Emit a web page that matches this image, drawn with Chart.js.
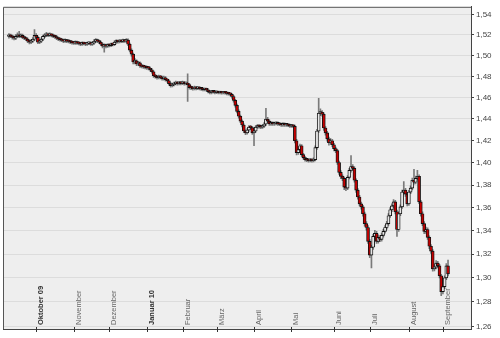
<!DOCTYPE html>
<html><head><meta charset="utf-8">
<script src="https://cdn.jsdelivr.net/npm/chart.js@4.4.1/dist/chart.umd.min.js"></script>
<style>html,body{margin:0;padding:0;background:#fff}canvas{display:block}</style>
</head><body>
<canvas id="c" width="500" height="338"></canvas>
<script>
// trading-day slots on the x axis; first candle sits in slot 3
const totalSlots = 275;
const firstSlot = 3;
const monthLabels = ['Oktober 09','November','Dezember','Januar 10','Februar','März','April','Mai','Juni','Juli','August','September'];
const monthSlots  = [19,41,62,84,105,125,147,169,194,215,238,258];
const monthBold   = [true,false,false,true,false,false,false,false,false,false,false,false];
const yTicks = [1.26,1.28,1.30,1.32,1.34,1.36,1.38,1.40,1.42,1.44,1.46,1.48,1.50,1.52,1.54];

const openP = [
1.5185,1.5196,1.5187,1.5177,1.5168,1.5187,1.5196,1.5187,1.5196,1.5177,1.5168,1.5158,1.5139,1.5129,1.5139,1.5158,1.5196,1.5177,1.5129,1.5139,
1.5158,1.5187,1.5196,1.5206,1.5196,1.5206,1.5196,1.5187,1.5182,1.5168,1.5158,1.5155,1.5148,1.5139,1.5148,1.5139,1.5136,1.5129,1.5125,1.5120,
1.5129,1.5120,1.5117,1.5110,1.5120,1.5115,1.5110,1.5118,1.5122,1.5110,1.5120,1.5139,1.5148,1.5139,1.5129,1.5110,1.5091,1.5100,1.5091,1.5100,
1.5097,1.5110,1.5106,1.5129,1.5139,1.5135,1.5141,1.5137,1.5148,1.5139,1.5150,1.5110,1.5052,1.5014,1.4938,1.4948,1.4919,1.4929,1.4900,1.4896,
1.4891,1.4886,1.4882,1.4878,1.4863,1.4844,1.4806,1.4797,1.4787,1.4797,1.4790,1.4778,1.4787,1.4769,1.4759,1.4731,1.4712,1.4722,1.4731,1.4740,
1.4731,1.4740,1.4733,1.4742,1.4731,1.4735,1.4722,1.4694,1.4690,1.4684,1.4694,1.4686,1.4692,1.4684,1.4680,1.4675,1.4678,1.4672,1.4656,1.4647,
1.4656,1.4652,1.4647,1.4650,1.4645,1.4648,1.4644,1.4647,1.4643,1.4638,1.4635,1.4629,1.4610,1.4573,1.4527,1.4471,1.4425,1.4380,1.4344,1.4289,
1.4271,1.4298,1.4325,1.4320,1.4271,1.4289,1.4325,1.4334,1.4330,1.4325,1.4334,1.4353,1.4398,1.4380,1.4353,1.4362,1.4353,1.4357,1.4362,1.4353,
1.4350,1.4344,1.4353,1.4344,1.4347,1.4341,1.4334,1.4338,1.4332,1.4199,1.4091,1.4118,1.4154,1.4073,1.4046,1.4028,1.4024,1.4019,1.4028,1.4019,
1.4028,1.4136,1.4289,1.4453,1.4462,1.4444,1.4316,1.4271,1.4217,1.4181,1.4199,1.4163,1.4127,1.4109,1.4002,1.3913,1.3878,1.3860,1.3781,1.3773,
1.3869,1.3931,1.3966,1.3949,1.3843,1.3755,1.3694,1.3634,1.3608,1.3547,1.3462,1.3428,1.3309,1.3191,1.3258,1.3351,1.3377,1.3309,1.3343,1.3326,
1.3360,1.3394,1.3428,1.3462,1.3530,1.3582,1.3616,1.3651,1.3565,1.3411,1.3547,1.3608,1.3738,1.3755,1.3720,1.3634,1.3738,1.3773,1.3843,1.3825,
1.3860,1.3878,1.3651,1.3547,1.3462,1.3394,1.3411,1.3343,1.3267,1.3225,1.3075,1.3091,1.3124,1.3100,1.3017,1.2885,1.2926,1.3000,1.3100];

const closeP = [
1.5196,1.5187,1.5177,1.5168,1.5187,1.5196,1.5187,1.5196,1.5177,1.5168,1.5158,1.5139,1.5129,1.5139,1.5158,1.5196,1.5177,1.5129,1.5139,1.5158,
1.5187,1.5196,1.5206,1.5196,1.5206,1.5196,1.5187,1.5182,1.5168,1.5158,1.5155,1.5148,1.5139,1.5148,1.5139,1.5136,1.5129,1.5125,1.5120,1.5129,
1.5120,1.5117,1.5110,1.5120,1.5115,1.5110,1.5118,1.5122,1.5110,1.5120,1.5139,1.5148,1.5139,1.5129,1.5110,1.5091,1.5100,1.5091,1.5100,1.5097,
1.5110,1.5106,1.5129,1.5139,1.5135,1.5141,1.5137,1.5148,1.5139,1.5150,1.5110,1.5052,1.5014,1.4938,1.4948,1.4919,1.4929,1.4900,1.4896,1.4891,
1.4886,1.4882,1.4878,1.4863,1.4844,1.4806,1.4797,1.4787,1.4797,1.4790,1.4778,1.4787,1.4769,1.4759,1.4731,1.4712,1.4722,1.4731,1.4740,1.4731,
1.4740,1.4733,1.4742,1.4731,1.4735,1.4722,1.4694,1.4690,1.4684,1.4694,1.4686,1.4692,1.4684,1.4680,1.4675,1.4678,1.4672,1.4656,1.4647,1.4656,
1.4652,1.4647,1.4650,1.4645,1.4648,1.4644,1.4647,1.4643,1.4638,1.4635,1.4629,1.4610,1.4573,1.4527,1.4471,1.4425,1.4380,1.4344,1.4289,1.4271,
1.4298,1.4325,1.4320,1.4271,1.4289,1.4325,1.4334,1.4330,1.4325,1.4334,1.4353,1.4398,1.4380,1.4353,1.4362,1.4353,1.4357,1.4362,1.4353,1.4350,
1.4344,1.4353,1.4344,1.4347,1.4341,1.4334,1.4338,1.4332,1.4199,1.4091,1.4118,1.4154,1.4073,1.4046,1.4028,1.4024,1.4019,1.4028,1.4019,1.4028,
1.4136,1.4289,1.4453,1.4462,1.4444,1.4316,1.4271,1.4217,1.4181,1.4199,1.4163,1.4127,1.4109,1.4002,1.3913,1.3878,1.3860,1.3781,1.3773,1.3869,
1.3931,1.3966,1.3949,1.3843,1.3755,1.3694,1.3634,1.3608,1.3547,1.3462,1.3428,1.3309,1.3191,1.3258,1.3351,1.3377,1.3309,1.3343,1.3326,1.3360,
1.3394,1.3428,1.3462,1.3530,1.3582,1.3616,1.3651,1.3565,1.3411,1.3547,1.3608,1.3738,1.3755,1.3720,1.3634,1.3738,1.3773,1.3843,1.3825,1.3860,
1.3878,1.3651,1.3547,1.3462,1.3394,1.3411,1.3343,1.3267,1.3225,1.3075,1.3091,1.3124,1.3100,1.3017,1.2885,1.2926,1.3000,1.3100,1.3033];

const highP = [
1.5215,1.5210,1.5200,1.5190,1.5205,1.5222,1.5235,1.5212,1.5208,1.5190,1.5180,1.5170,1.5152,1.5155,1.5175,1.5254,1.5215,1.5190,1.5155,1.5172,
1.5200,1.5214,1.5225,1.5218,1.5222,1.5215,1.5208,1.5200,1.5193,1.5180,1.5172,1.5166,1.5160,1.5162,1.5158,1.5152,1.5148,1.5142,1.5138,1.5142,
1.5140,1.5132,1.5128,1.5132,1.5130,1.5126,1.5130,1.5136,1.5132,1.5134,1.5154,1.5164,1.5160,1.5150,1.5140,1.5122,1.5114,1.5112,1.5114,1.5112,
1.5122,1.5122,1.5142,1.5152,1.5150,1.5154,1.5152,1.5160,1.5158,1.5164,1.5162,1.5122,1.5064,1.5024,1.4970,1.4960,1.4944,1.4940,1.4914,1.4908,
1.4904,1.4898,1.4894,1.4888,1.4874,1.4854,1.4820,1.4810,1.4812,1.4810,1.4802,1.4802,1.4798,1.4780,1.4768,1.4742,1.4737,1.4746,1.4756,1.4752,
1.4754,1.4752,1.4756,1.4754,1.4748,1.4825,1.4734,1.4707,1.4702,1.4707,1.4705,1.4704,1.4704,1.4696,1.4692,1.4690,1.4689,1.4684,1.4667,1.4668,
1.4665,1.4662,1.4660,1.4659,1.4658,1.4657,1.4657,1.4655,1.4652,1.4648,1.4645,1.4638,1.4620,1.4584,1.4538,1.4484,1.4436,1.4392,1.4354,1.4300,
1.4310,1.4338,1.4342,1.4330,1.4302,1.4338,1.4349,1.4346,1.4342,1.4348,1.4366,1.4499,1.4414,1.4392,1.4376,1.4374,1.4370,1.4376,1.4374,1.4364,
1.4361,1.4366,1.4364,1.4359,1.4358,1.4352,1.4350,1.4349,1.4344,1.4212,1.4134,1.4169,1.4164,1.4084,1.4056,1.4040,1.4034,1.4040,1.4038,1.4044,
1.4152,1.4304,1.4592,1.4494,1.4479,1.4456,1.4329,1.4286,1.4234,1.4219,1.4212,1.4176,1.4142,1.4122,1.4014,1.3929,1.3892,1.3872,1.3799,1.3884,
1.3949,1.4064,1.3984,1.3962,1.3856,1.3769,1.3709,1.3649,1.3622,1.3562,1.3479,1.3444,1.3324,1.3274,1.3369,1.3404,1.3394,1.3364,1.3359,1.3379,
1.3412,1.3444,1.3482,1.3549,1.3602,1.3634,1.3672,1.3664,1.3579,1.3564,1.3626,1.3756,1.3830,1.3772,1.3734,1.3754,1.3792,1.3862,1.3940,1.3879,
1.3931,1.3892,1.3666,1.3564,1.3479,1.3432,1.3424,1.3356,1.3282,1.3239,1.3112,1.3144,1.3139,1.3114,1.3029,1.2944,1.3016,1.3119,1.3149];

const lowP = [
1.5170,1.5173,1.5160,1.5153,1.5155,1.5175,1.5173,1.5175,1.5165,1.5155,1.5145,1.5125,1.5113,1.5115,1.5127,1.5145,1.5163,1.5115,1.5115,1.5125,
1.5145,1.5173,1.5183,1.5183,1.5185,1.5181,1.5173,1.5167,1.5155,1.5145,1.5140,1.5135,1.5125,1.5127,1.5125,1.5122,1.5115,1.5111,1.5107,1.5108,
1.5107,1.5103,1.5097,1.5099,1.5102,1.5097,1.5098,1.5105,1.5098,1.5099,1.5109,1.5127,1.5125,1.5115,1.5097,1.5075,1.5033,1.5073,1.5079,1.5083,
1.5085,1.5093,1.5095,1.5117,1.5121,1.5123,1.5125,1.5125,1.5127,1.5127,1.5095,1.5035,1.4995,1.4920,1.4920,1.4903,1.4905,1.4885,1.4881,1.4877,
1.4871,1.4867,1.4863,1.4850,1.4830,1.4790,1.4783,1.4773,1.4775,1.4776,1.4765,1.4765,1.4755,1.4745,1.4717,1.4698,1.4700,1.4710,1.4719,1.4717,
1.4719,1.4720,1.4721,1.4717,1.4718,1.4564,1.4680,1.4675,1.4670,1.4671,1.4672,1.4673,1.4671,1.4667,1.4662,1.4663,1.4659,1.4643,1.4635,1.4635,
1.4640,1.4635,1.4636,1.4633,1.4634,1.4632,1.4633,1.4631,1.4625,1.4622,1.4615,1.4595,1.4557,1.4510,1.4455,1.4407,1.4365,1.4327,1.4273,1.4255,
1.4259,1.4285,1.4305,1.4257,1.4154,1.4277,1.4313,1.4315,1.4310,1.4313,1.4321,1.4340,1.4365,1.4340,1.4340,1.4340,1.4341,1.4345,1.4341,1.4337,
1.4331,1.4332,1.4331,1.4332,1.4328,1.4321,1.4322,1.4319,1.4180,1.4070,1.4075,1.4103,1.4057,1.4031,1.4013,1.4009,1.4005,1.4007,1.4005,1.4007,
1.4015,1.4120,1.4275,1.4430,1.4425,1.4295,1.4250,1.4195,1.4160,1.4165,1.4145,1.4107,1.4090,1.3985,1.3895,1.3857,1.3840,1.3760,1.3750,1.3760,
1.3855,1.3915,1.3930,1.3825,1.3735,1.3675,1.3615,1.3587,1.3527,1.3440,1.3405,1.3290,1.3170,1.3083,1.3240,1.3330,1.3290,1.3293,1.3305,1.3310,
1.3345,1.3380,1.3413,1.3445,1.3515,1.3565,1.3600,1.3545,1.3351,1.3395,1.3530,1.3593,1.3720,1.3700,1.3615,1.3620,1.3723,1.3757,1.3807,1.3810,
1.3845,1.3635,1.3527,1.3443,1.3375,1.3377,1.3325,1.3247,1.3205,1.3055,1.3057,1.3075,1.3083,1.3000,1.2852,1.2865,1.2910,1.2985,1.3015];

// build category slots and padded OHLC tables for the library
const slots = [];
for (let i = 0; i < totalSlots; i++) slots.push(String(i));
const bodies = [], wicks = [], fills = [];
for (let i = 0; i < totalSlots; i++) {
  const k = i - firstSlot;
  if (k >= 0 && k < closeP.length) {
    bodies.push([openP[k], closeP[k]]);
    wicks.push([lowP[k], highP[k]]);
    fills.push(closeP[k] < openP[k] ? '#c40000' : '#e6e6e6');
  } else { bodies.push(null); wicks.push(null); fills.push('#000'); }
}

const frame = {
  id: 'frame',
  beforeDraw(chart) {
    const {ctx, chartArea: a} = chart;
    ctx.save();
    ctx.fillStyle = '#eeeeee';
    ctx.fillRect(a.left, a.top, a.right - a.left, a.bottom - a.top);
    ctx.restore();
  },
  afterDatasetsDraw(chart) {
    const {ctx, chartArea: a} = chart;
    const xs = chart.scales.x;
    ctx.save();
    ctx.strokeStyle = '#555';
    ctx.lineWidth = 1;
    ctx.beginPath();
    ctx.moveTo(a.left + 0.5, a.bottom);
    ctx.lineTo(a.left + 0.5, a.top + 0.5);
    ctx.lineTo(a.right, a.top + 0.5);
    ctx.stroke();
    monthSlots.forEach((s, j) => {
      const x = Math.round(xs.getPixelForValue(s)) + 0.5;
      ctx.strokeStyle = '#333';
      ctx.beginPath();
      ctx.moveTo(x, a.bottom - 2);
      ctx.lineTo(x, a.bottom + 3);
      ctx.stroke();
      ctx.save();
      ctx.translate(x + 4, a.bottom - 4);
      ctx.rotate(-Math.PI / 2);
      ctx.font = (monthBold[j] ? 'bold ' : '') + '7.5px "Liberation Sans", Arial, sans-serif';
      ctx.fillStyle = monthBold[j] ? '#333' : '#666';
      ctx.textAlign = 'left';
      ctx.textBaseline = 'middle';
      ctx.fillText(monthLabels[j], 0, 0);
      ctx.restore();
    });
    ctx.restore();
  }
};

new Chart(document.getElementById('c'), {
  type: 'bar',
  data: {
    labels: slots,
    datasets: [
      { label: 'Körper', data: bodies, backgroundColor: fills, borderColor: '#111', borderWidth: 0.9,
        borderSkipped: false, barThickness: 3, minBarLength: 1.6, grouped: false, order: 0 },
      { label: 'Docht', data: wicks, backgroundColor: '#7a7a7a', borderWidth: 0,
        barThickness: 1, grouped: false, order: 1 }
    ]
  },
  options: {
    responsive: false,
    animation: false,
    devicePixelRatio: 1,
    layout: { padding: { left: 3, top: 2, right: 0, bottom: 0 } },
    plugins: { legend: { display: false }, tooltip: { enabled: false } },
    scales: {
      x: {
        type: 'category',
        offset: true,
        grid: { display: false },
        border: { display: true, color: '#444', width: 1 },
        ticks: { display: false },
        afterFit(s) { s.height = 9; }
      },
      y: {
        type: 'logarithmic',
        position: 'right',
        min: 1.25784,
        max: 1.54784,
        afterBuildTicks(s) { s.ticks = yTicks.map(v => ({ value: v })); },
        grid: { color: '#dcdcdc', lineWidth: 1, tickColor: '#444', tickLength: 3 },
        border: { display: true, color: '#444', width: 1 },
        ticks: {
          padding: 2,
          color: '#444',
          font: { family: '"Liberation Sans", Arial, sans-serif', size: 8 },
          callback: v => Number(v).toFixed(2).replace('.', ',')
        },
        afterFit(s) { s.width = 29; }
      }
    }
  },
  plugins: [frame]
});
</script>
</body></html>
